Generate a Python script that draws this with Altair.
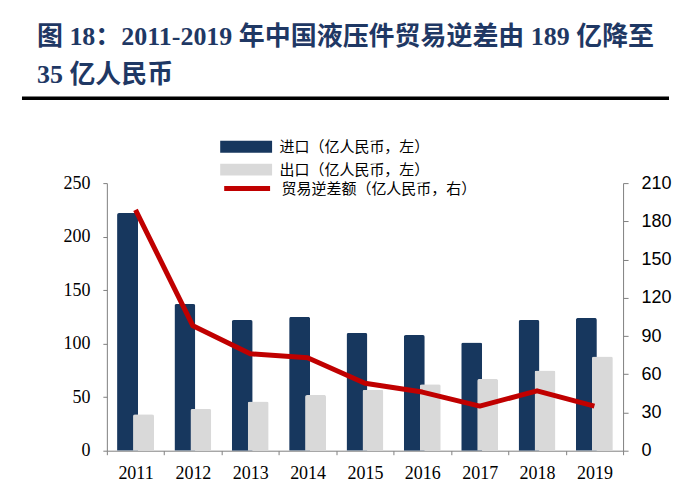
import altair as alt
import pandas as pd

years = ["2011", "2012", "2013", "2014", "2015", "2016", "2017", "2018", "2019"]
imports = [222, 137, 122, 125, 110, 108, 101, 122, 124]
exports = [34, 39, 46, 52, 57, 62, 67, 75, 88]
deficit = [189, 98, 76, 73, 53, 46, 35, 47, 35]

s_imp = "进口（亿人民币，左）"
s_exp = "出口（亿人民币，左）"
s_def = "贸易逆差额（亿人民币，右）"

title1 = "图 18：2011-2019 年中国液压件贸易逆差由 189 亿降至"
title2 = "35 亿人民币"

bars_df = pd.DataFrame({
    "year": years * 2,
    "series": [s_imp] * len(years) + [s_exp] * len(years),
    "value": imports + exports,
})
line_df = pd.DataFrame({"year": years, "series": [s_def] * len(years), "value": deficit})

NAVY = "#17375E"
GRAY = "#D9D9D9"
RED = "#C00000"
SERIF = "Liberation Serif, Noto Sans CJK SC"
SANS = "Liberation Sans"
CJK = "Noto Sans CJK SC"

xenc = alt.X("year:N", sort=years,
             scale=alt.Scale(paddingInner=0, paddingOuter=0),
             axis=alt.Axis(title=None, labelAngle=0, labelFont=SERIF, labelFontSize=18,
                           labelColor="#000", labelPadding=10, domainColor="#808080",
                           tickColor="#808080", tickSize=4, tickBand="extent",
                           grid=False))

fill_scale = alt.Scale(domain=[s_imp, s_exp], range=[NAVY, GRAY])
yleft = alt.Y("value:Q", scale=alt.Scale(domain=[0, 250]),
              axis=alt.Axis(title=None, values=[0, 50, 100, 150, 200, 250], labelFont=SERIF,
                            labelFontSize=18, labelColor="#000", labelPadding=13,
                            domainColor="#808080", tickColor="#808080", tickSize=4, grid=False))

bar_legend = alt.Legend(title=None, orient="none", legendX=132, legendY=-44,
                        symbolType="M-4.33,-1H4.33V1H-4.33Z", symbolSize=144,
                        symbolStrokeWidth=0, labelFont=CJK, labelFontSize=15,
                        labelColor="#000", labelOffset=26, labelLimit=400,
                        rowPadding=7, padding=0)

imp_bar = alt.Chart(bars_df).transform_filter(alt.datum.series == s_imp).mark_bar(
    width=21, xOffset=-8, cornerRadiusTopLeft=2, cornerRadiusTopRight=2
).encode(x=xenc, y=yleft, fill=alt.Fill("series:N", scale=fill_scale, legend=bar_legend))

exp_bar = alt.Chart(bars_df).transform_filter(alt.datum.series == s_exp).mark_bar(
    width=21, xOffset=8, cornerRadiusTopLeft=2, cornerRadiusTopRight=2
).encode(x=xenc, y=alt.Y("value:Q", scale=alt.Scale(domain=[0, 250])),
         fill=alt.Fill("series:N", scale=fill_scale, legend=bar_legend))

bars = alt.layer(imp_bar, exp_bar)

line_legend = alt.Legend(title=None, orient="none", legendX=132, legendY=-3,
                         symbolType="M-3.83,0H3.83", symbolSize=144, symbolStrokeWidth=5,
                         labelFont=CJK, labelFontSize=15, labelColor="#000",
                         labelOffset=26, labelLimit=400, padding=0)

line = alt.Chart(line_df).mark_line(strokeWidth=5, strokeJoin="round").encode(
    x=xenc,
    y=alt.Y("value:Q", scale=alt.Scale(domain=[0, 210]),
            axis=alt.Axis(title=None, orient="right", values=[0, 30, 60, 90, 120, 150, 180, 210],
                          labelFont=SANS, labelFontSize=18, labelColor="#000",
                          labelPadding=13, domainColor="#808080", tickColor="#808080",
                          tickSize=5, grid=False)),
    stroke=alt.Stroke("series:N", scale=alt.Scale(domain=[s_def], range=[RED]), legend=line_legend),
)

one = pd.DataFrame({"a": [0]})
t1 = alt.Chart(one).mark_text(align="left", baseline="middle", font=SERIF, fontSize=26,
                              fontWeight="bold", color="#1F3864").encode(
    x=alt.value(-70), y=alt.value(-146), text=alt.value(title1))
t2 = alt.Chart(one).mark_text(align="left", baseline="middle", font=SERIF, fontSize=26,
                              fontWeight="bold", color="#1F3864").encode(
    x=alt.value(-70), y=alt.value(-108), text=alt.value(title2))
rule = alt.Chart(one).mark_rule(color="#000", strokeWidth=3.5).encode(
    x=alt.value(-85), x2=alt.value(563), y=alt.value(-85))

chart = alt.layer(bars, line, t1, t2, rule).resolve_scale(
    y="independent", fill="independent", stroke="independent"
).properties(
    width=517, height=268,
    autosize=alt.AutoSizeParams(type="none"),
    padding={"left": 99, "top": 175, "right": 50, "bottom": 40},
).configure_view(stroke=None)

chart.save("out.html", embed_options={"renderer": "svg", "actions": False})
